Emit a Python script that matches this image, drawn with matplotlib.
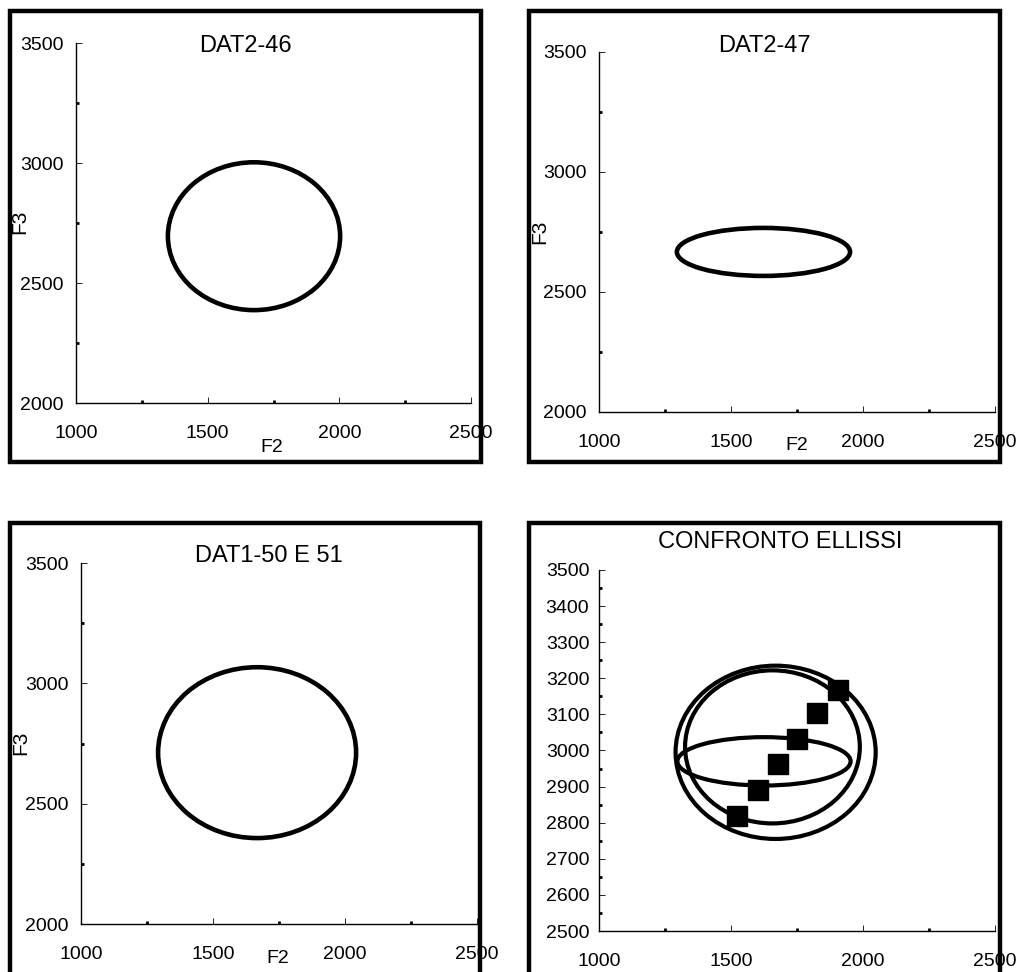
import matplotlib
matplotlib.use('Agg')
import matplotlib.pyplot as plt
from matplotlib.patches import Ellipse, Rectangle
from matplotlib.ticker import MultipleLocator

W, H = 1017, 972
plt.rcParams['font.family'] = ['Liberation Sans', 'DejaVu Sans']

# Dati
titoli = ['DAT2-46', 'DAT2-47', 'DAT1-50 E 51', 'CONFRONTO ELLISSI']

# ellissi: centro F2, centro F3, semiasse F2, semiasse F3
ell_dat2_46 = [1676, 2695, 327, 308]
ell_dat2_47 = [1623, 2667, 328, 100]
ell_dat1_50 = [1667, 2712, 375, 355]

conf_f2 = [1669, 1657, 1625]
conf_f3 = [2995, 3010, 2970]
conf_a = [379, 331, 328]
conf_b = [240, 212, 67]

punti_f2 = [1524, 1601, 1677, 1751, 1827, 1906]
punti_f3 = [2819, 2891, 2962, 3032, 3105, 3168]

x_ticks = [1000, 1500, 2000, 2500]
y_ticks = [2000, 2500, 3000, 3500]
y_ticks_conf = list(range(2500, 3501, 100))


def px_axes(l, r, t, b):
    return [l / W, 1 - b / H, (r - l) / W, (b - t) / H]


fig = plt.figure(figsize=(W / 100, H / 100), dpi=100)

# cornici dei grafici (stile Excel)
for (l, r, t, b) in [(10, 481, 11, 462), (529, 1000, 11, 462),
                     (10, 480, 523, 975), (529, 1000, 523, 975)]:
    fig.add_artist(Rectangle((l / W, 1 - b / H), (r - l) / W, (b - t) / H,
                             transform=fig.transFigure, fill=False,
                             edgecolor='black', linewidth=3.2, zorder=0))


def stile_assi(ax, yticks, ymin, ymax, yminor, ypad):
    ax.set_xlim(1000, 2500)
    ax.set_ylim(ymin, ymax)
    ax.set_xticks(x_ticks)
    ax.set_yticks(yticks)
    ax.xaxis.set_minor_locator(MultipleLocator(250))
    ax.yaxis.set_minor_locator(MultipleLocator(yminor))
    for s in ['top', 'right']:
        ax.spines[s].set_visible(False)
    for s in ['left', 'bottom']:
        ax.spines[s].set_linewidth(1.0)
    ax.tick_params(axis='x', which='major', direction='in', length=4, width=0.6,
                   labelsize=14, pad=16)
    ax.tick_params(axis='y', which='major', direction='in', length=4, width=0.6,
                   labelsize=14, pad=ypad)
    ax.tick_params(which='minor', direction='in', length=2.5, width=2)
    ax.patch.set_alpha(0)


assi = [px_axes(76, 471, 43, 403), px_axes(599, 995, 52, 412),
        px_axes(81, 477, 563, 924), px_axes(599, 995, 570, 931)]
singole = [ell_dat2_46, ell_dat2_47, ell_dat1_50]

for i in range(3):
    ax = fig.add_axes(assi[i])
    stile_assi(ax, y_ticks, 2000, 3500, 250, 9)
    cx, cy, a, b = singole[i]
    ax.add_patch(Ellipse((cx, cy), 2 * a, 2 * b, fill=False,
                         edgecolor='black', linewidth=3.3))

ax4 = fig.add_axes(assi[3])
stile_assi(ax4, y_ticks_conf, 2500, 3500, 50, 7)
for cx, cy, a, b in zip(conf_f2, conf_f3, conf_a, conf_b):
    ax4.add_patch(Ellipse((cx, cy), 2 * a, 2 * b, fill=False,
                          edgecolor='black', linewidth=3.0))
ax4.plot(punti_f2, punti_f3, linestyle='none', marker='s', markersize=14,
         color='black')

# titoli e etichette degli assi
tit_pos = [(245, 46), (764, 46), (269, 556), (780, 542)]
for t, (x, y) in zip(titoli, tit_pos):
    fig.text(x / W, 1 - y / H, t, ha='center', va='center', fontsize=17)

for (x, y) in [(272, 447), (797, 445), (278, 958)]:
    fig.text(x / W, 1 - y / H, 'F2', ha='center', va='center', fontsize=14)
for (x, y) in [(20, 222), (540, 232), (21, 743)]:
    fig.text(x / W, 1 - y / H, 'F3', ha='center', va='center', fontsize=15,
             rotation=90)

fig.savefig('out.png', dpi=100)
